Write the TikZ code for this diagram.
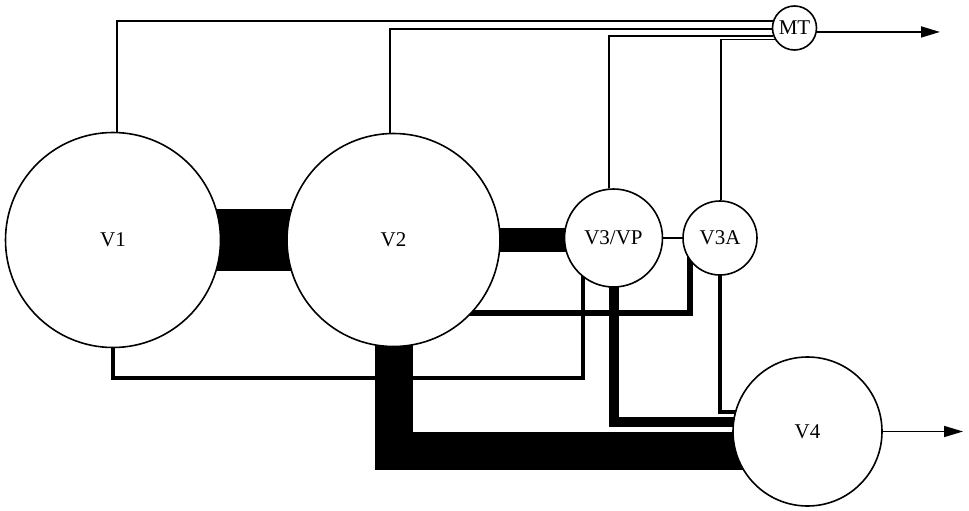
\documentclass[tikz,border=0pt]{standalone}
\usepackage{fontspec}
\setmainfont{Liberation Serif}
\usetikzlibrary{arrows.meta}
\pgfdeclarelayer{bg}
\pgfsetlayers{bg,main}
\begin{document}
\begin{tikzpicture}[x=1pt,y=-1pt,
  vessel/.style={circle,draw,line width=1.6pt,fill=white,inner sep=0pt,
     font=\fontsize{21}{25}\selectfont},
  thin/.style={line width=1.7pt},
  band/.style={line cap=butt,line join=miter},
  outarrow/.style={line width=1.7pt,-{Triangle[length=19pt,width=11pt]}}]
\path[use as bounding box] (0,0) rectangle (969,511);
% vessels
\node[vessel,minimum size=215pt] (V1) at (113,240) {V1};
\node[vessel,minimum size=213pt] (V2) at (393.5,240) {V2};
\node[vessel,minimum size=98pt] (V3VP) at (613.5,238) {V3/VP};
\node[vessel,minimum size=74pt] (V3A) at (720,238) {V3A};
\node[vessel,minimum size=44pt] (MT) at (794.5,28) {MT};
\node[vessel,minimum size=149pt] (V4) at (807.5,431.5) {V4};
% levels
\coordinate (lvlA) at (0,422);
\coordinate (lvlB) at (0,412);
\coordinate (lvlC) at (0,451);
\coordinate (lvlD) at (0,378);
\coordinate (lvlE) at (0,313);
\coordinate (xq) at (583,0);
\coordinate (xr) at (690,0);
\coordinate (mtout) at (940,0);
\coordinate (v4out) at (963,0);
\begin{pgfonlayer}{bg}
% thick bands
\draw[band,line width=62pt] (V1.center) -- (V2.center);
\draw[band,line width=24pt] (V2.center) -- (V3VP.center |- V2.center);
\draw[band,line width=38pt] (V2.center) -- (V2.center |- lvlC) -- (V4.center |- lvlC);
\draw[band,line width=10pt] (V3VP.center) -- (V3VP.center |- lvlA) -- (V4.center |- lvlA);
\draw[band,line width=6pt] (V2.center |- lvlE) -- (xr |- lvlE) -- (xr |- V3A.center);
\draw[band,line width=4.5pt] (V1.center) -- (V1.center |- lvlD) -- (xq |- lvlD) -- (xq |- V3VP.center);
\draw[band,line width=4pt] (V3A.center) -- (V3A.center |- lvlB) -- (V4.center |- lvlB);
% thin lines
\draw[thin] (V3VP.center) -- (V3A.center);
\draw[thin] (V1.88) |- (MT.162.3);
\draw[thin] (V2.92) |- (MT.183.4);
\draw[thin] (V3VP.95.3) |- (MT.200.5);
\draw[thin] (V3A.88.5) |- (MT.210.9);
\end{pgfonlayer}
% outputs
\draw[outarrow] (MT.-10) -- (MT.-10 -| mtout);
\draw[outarrow] (V4.east) -- (V4.east -| v4out);
\end{tikzpicture}
\end{document}
